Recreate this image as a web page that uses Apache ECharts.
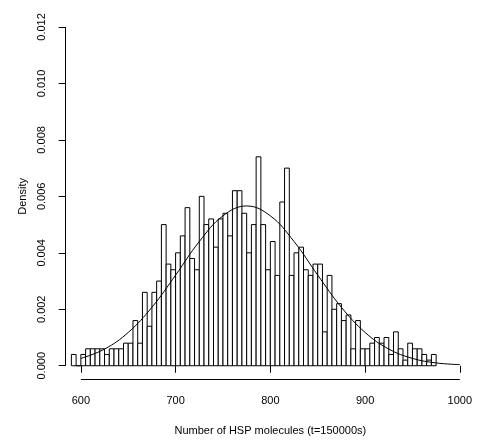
<!DOCTYPE html>
<html>
<head>
<meta charset="utf-8">
<script src="https://cdn.jsdelivr.net/npm/echarts@6/dist/echarts.min.js"></script>
<style>
  html, body { margin: 0; padding: 0; background: #fff; }
  #chart { width: 482px; height: 445px; }
</style>
</head>
<body>
<div id="chart"></div>
<script>
// histogram bins (width 5, starting at 590), counts out of 1000 samples
const binStart = 590;
const binWidth = 5;
const sampleSize = 1000;
const counts = [
  2, 0, 2, 3, 3, 3, 3, 2, 3, 3,
  3, 4, 4, 8, 4, 13, 7, 13, 15, 25,
  18, 17, 20, 23, 28, 19, 17, 30, 25, 26,
  21, 26, 27, 23, 31, 31, 27, 20, 25, 37,
  25, 17, 22, 16, 29, 35, 16, 20, 21, 17,
  16, 18, 18, 6, 16, 10, 11, 8, 9, 3,
  8, 3, 3, 4, 5, 4, 5, 2, 6, 3,
  1, 4, 3, 3, 2, 1, 2
];

// fitted density curve
const curveX = [600, 625, 650, 675, 700, 725, 750, 775, 800, 825, 850, 875, 900, 925, 950, 975, 1000];
const curveY = [0.00026, 0.00059, 0.00118, 0.00207, 0.00321, 0.00440, 0.00531, 0.00566, 0.00531,
  0.00440, 0.00321, 0.00207, 0.00118, 0.00059, 0.00026, 0.00010, 0.00004];

const xTicks = [600, 700, 800, 900, 1000];
const yTicks = [0, 0.002, 0.004, 0.006, 0.008, 0.010, 0.012];

// R style axis ranges (4% padding)
const xMin = 584, xMax = 1016;
const yMin = -0.00048, yMax = 0.01248;

const font = '"Liberation Sans", Arial, Helvetica, sans-serif';

const bins = counts.map((c, i) => [
  binStart + i * binWidth,
  binStart + (i + 1) * binWidth,
  c / (sampleSize * binWidth)
]);

const chart = echarts.init(document.getElementById('chart'));

const option = {
  animation: false,
  grid: { left: 65.7, right: 7, top: 13.4, bottom: 65.7 },
  xAxis: {
    type: 'value',
    min: xMin,
    max: xMax,
    name: 'Number of HSP molecules (t=150000s)',
    nameLocation: 'middle',
    nameGap: 46,
    nameTextStyle: { color: '#000', fontSize: 11, fontFamily: font },
    axisLine: { show: false },
    axisTick: { show: true, length: 7, customValues: xTicks, lineStyle: { color: '#000' } },
    axisLabel: {
      customValues: xTicks, margin: 16, color: '#000', fontSize: 11, fontFamily: font,
      formatter: v => String(v)
    },
    splitLine: { show: false }
  },
  yAxis: {
    type: 'value',
    min: yMin,
    max: yMax,
    name: 'Density',
    nameLocation: 'middle',
    nameGap: 33,
    nameTextStyle: { color: '#000', fontSize: 11, fontFamily: font },
    axisLine: { show: false },
    axisTick: { show: true, length: 7, customValues: yTicks, lineStyle: { color: '#000' } },
    axisLabel: {
      customValues: yTicks,
      rotate: 90,
      margin: 18,
      align: 'center',
      verticalAlign: 'bottom',
      color: '#000',
      fontSize: 11,
      fontFamily: font,
      formatter: v => v.toFixed(3)
    },
    splitLine: { show: false }
  },
  series: [
    {
      type: 'custom',
      data: bins,
      encode: { x: [0, 1], y: 2 },
      renderItem: function (params, api) {
        const p0 = api.coord([api.value(0), api.value(2)]);
        const p1 = api.coord([api.value(1), 0]);
        return {
          type: 'rect',
          shape: { x: p0[0], y: p0[1], width: p1[0] - p0[0], height: p1[1] - p0[1] },
          style: { fill: '#fff', stroke: '#000', lineWidth: 1 }
        };
      }
    },
    {
      type: 'line',
      data: curveX.map((x, i) => [x, curveY[i]]),
      smooth: 0.4,
      symbol: 'none',
      lineStyle: { color: '#000', width: 1 },
      markLine: {
        silent: true,
        symbol: 'none',
        label: { show: false },
        lineStyle: { color: '#000', width: 1, type: 'solid' },
        data: [
          [{ coord: [xMin, yTicks[0]] }, { coord: [xMin, yTicks[yTicks.length - 1]] }],
          [{ coord: [xTicks[0], yMin] }, { coord: [xTicks[xTicks.length - 1], yMin] }]
        ]
      }
    }
  ]
};

chart.setOption(option);
</script>
</body>
</html>
